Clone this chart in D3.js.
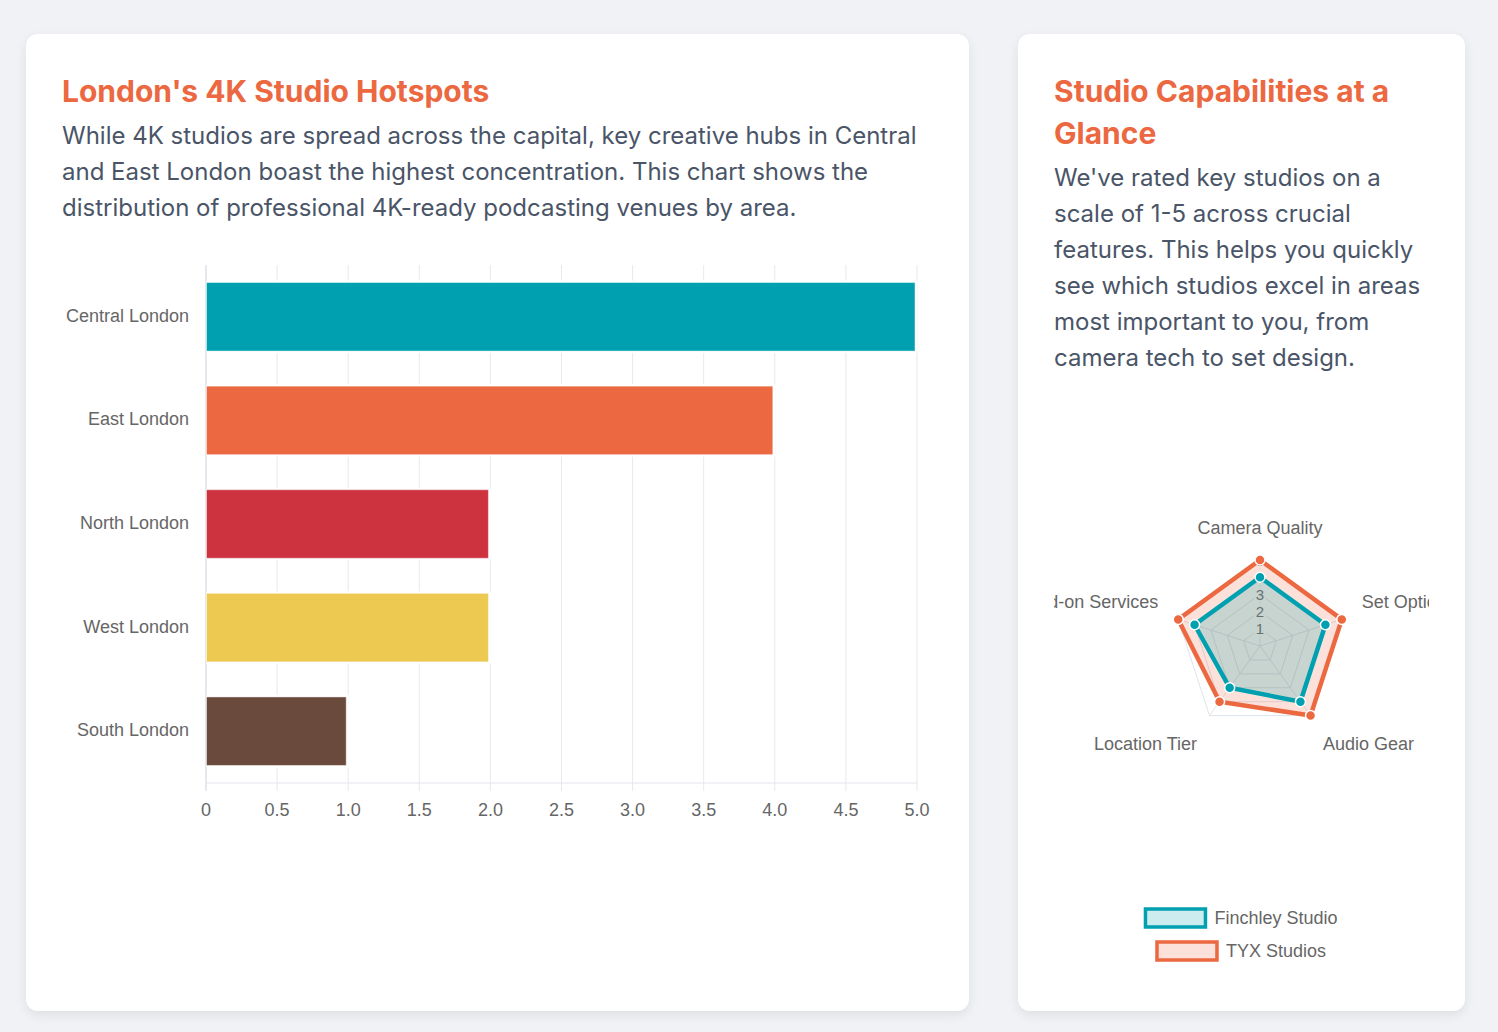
<!DOCTYPE html>
<html>
<head>
<meta charset="utf-8">
<script src="https://cdn.jsdelivr.net/npm/d3@7"></script>
<style>
  body { margin: 0; background: #f1f2f6; font-family: Inter, "Noto Sans", sans-serif; }
  .wrap { position: relative; width: 1498px; height: 1032px; }
  .card {
    position: absolute; top: 34px; height: 977px; background: #fff;
    border-radius: 12px; box-shadow: 0 4px 12px rgba(0,0,0,0.08);
    box-sizing: border-box; padding: 36px;
  }
  #left { left: 26px; width: 943px; }
  #right { left: 1018px; width: 447px; }
  h2 { margin: 0 0 6px; font-size: 30px; line-height: 42px; font-weight: 700; color: #eb6841; }
  p { margin: 0; font-size: 24px; line-height: 36px; color: #4a5568; }
  svg.chart { position: absolute; left: 0; top: 0; overflow: visible; }
  svg text { font-family: "Liberation Sans", Arial, sans-serif; fill: #666; }
</style>
</head>
<body>
<div class="wrap">
  <div class="card" id="left">
    <h2>London's 4K Studio Hotspots</h2>
    <p>While 4K studios are spread across the capital, key creative hubs in Central and East London boast the highest concentration. This chart shows the distribution of professional 4K-ready podcasting venues by area.</p>
    <svg class="chart" id="bar" width="943" height="977"></svg>
  </div>
  <div class="card" id="right">
    <h2>Studio Capabilities at a Glance</h2>
    <p>We've rated key studios on a scale of 1-5 across crucial features. This helps you quickly see which studios excel in areas most important to you, from camera tech to set design.</p>
    <svg class="chart" id="radar" width="447" height="977"></svg>
  </div>
</div>
<script>
// bar chart data
const regions = ["Central London", "East London", "North London", "West London", "South London"];
const studioCounts = [5, 4, 2, 2, 1];
const regionColors = ["#00a0b0", "#eb6841", "#cc333f", "#edc951", "#6a4a3c"];
const xTicks = [0, 0.5, 1, 1.5, 2, 2.5, 3, 3.5, 4, 4.5, 5];

// radar data
const features = ["Camera Quality", "Set Options", "Audio Gear", "Location Tier", "Add-on Services"];
const studioNames = ["Finchley Studio", "TYX Studios"];
const finchleyScores = [4, 4, 4, 3, 4];
const tyxScores = [5, 5, 5, 4, 5];
const studioColors = ["#00a0b0", "#eb6841"];
const studioFills = ["rgba(0,160,176,0.2)", "rgba(235,104,65,0.2)"];
const radarTicks = [1, 2, 3, 4, 5];

// ---------- bar chart ----------
const bar = d3.select("#bar");
const x = d3.scaleLinear().domain([0, 5]).range([180, 891]);
const y = d3.scaleBand().domain(regions).range([231, 749]).paddingInner(0.3).paddingOuter(0.15);

bar.append("g").selectAll("line")
  .data(xTicks)
  .enter().append("line")
  .attr("x1", d => x(d)).attr("x2", d => x(d))
  .attr("y1", 231).attr("y2", 757)
  .style("stroke", "#e6e9ef");

bar.append("line")
  .attr("x1", x(0)).attr("x2", x(5))
  .attr("y1", 749).attr("y2", 749)
  .style("stroke", "#e3e6ec");

bar.append("line")
  .attr("x1", x(0)).attr("x2", x(0))
  .attr("y1", 231).attr("y2", 757)
  .style("stroke", "#d8dbe2");

const bars = bar.append("g").selectAll("g")
  .data(regions)
  .enter().append("g");

bars.append("rect")
  .attr("x", x(0) + 0.5)
  .attr("y", d => y(d))
  .attr("width", (d, i) => x(studioCounts[i]) - x(0))
  .attr("height", y.bandwidth())
  .style("fill", "#fff");

bars.append("rect")
  .attr("x", x(0) + 0.5)
  .attr("y", d => y(d) + 2)
  .attr("width", (d, i) => x(studioCounts[i]) - x(0) - 2.5)
  .attr("height", y.bandwidth() - 4)
  .style("fill", (d, i) => regionColors[i])
  .style("stroke", "rgba(255,255,255,0.45)")
  .style("stroke-width", 1);

bar.append("g").selectAll("text")
  .data(regions)
  .enter().append("text")
  .attr("x", 163)
  .attr("y", d => y(d) + y.bandwidth() / 2 + 5)
  .attr("text-anchor", "end")
  .style("font-size", "18px")
  .text(d => d);

bar.append("g").selectAll("text")
  .data(xTicks)
  .enter().append("text")
  .attr("x", d => x(d))
  .attr("y", 782)
  .attr("text-anchor", "middle")
  .style("font-size", "18px")
  .text(d => d === 0 ? "0" : d.toFixed(1));

// ---------- radar chart ----------
const radar = d3.select("#radar");
const cx = 242, cy = 612;
const r = d3.scaleLinear().domain([0, 5]).range([0, 86]);
const angle = i => i * 2 * Math.PI / features.length;
const pt = (i, v) => [cx + r(v) * Math.sin(angle(i)), cy - r(v) * Math.cos(angle(i))];

radar.append("defs").append("clipPath").attr("id", "radarClip")
  .append("rect").attr("x", 36).attr("y", 340).attr("width", 375).attr("height", 500);

const rg = radar.append("g").attr("clip-path", "url(#radarClip)");

// grid rings
rg.append("g").selectAll("polygon")
  .data(radarTicks)
  .enter().append("polygon")
  .attr("points", v => features.map((f, i) => pt(i, v).join(",")).join(" "))
  .style("fill", "none")
  .style("stroke", "#dfe4eb");

// angle lines
rg.append("g").selectAll("line")
  .data(features)
  .enter().append("line")
  .attr("x1", cx).attr("y1", cy)
  .attr("x2", (d, i) => pt(i, 5)[0])
  .attr("y2", (d, i) => pt(i, 5)[1])
  .style("stroke", "#dfe4eb");

// tick labels with backdrop
const tickG = rg.append("g").selectAll("g")
  .data(radarTicks)
  .enter().append("g");
tickG.append("rect")
  .attr("x", cx - 6).attr("y", v => cy - r(v) - 8)
  .attr("width", 12).attr("height", 16)
  .style("fill", "rgba(255,255,255,0.75)");
tickG.append("text")
  .attr("x", cx).attr("y", v => cy - r(v) + 5.5)
  .attr("text-anchor", "middle")
  .style("font-size", "15px")
  .text(v => v);

// point labels
rg.append("g").selectAll("text")
  .data(features)
  .enter().append("text")
  .attr("x", (d, i) => cx + 107 * Math.sin(angle(i)))
  .attr("y", (d, i) => {
    const py = cy - 107 * Math.cos(angle(i));
    return Math.cos(angle(i)) > 0 ? py - 5 : py + 17;
  })
  .attr("text-anchor", (d, i) => {
    const s = Math.sin(angle(i));
    return s > 0.01 ? "start" : s < -0.01 ? "end" : "middle";
  })
  .style("font-size", "18px")
  .text(d => d);

// datasets: last drawn first so Finchley sits on top
const datasets = [finchleyScores, tyxScores];
[1, 0].forEach(k => {
  const g = rg.append("g");
  const scores = datasets[k];
  g.append("polygon")
    .attr("points", scores.map((v, i) => pt(i, v).join(",")).join(" "))
    .style("fill", studioFills[k])
    .style("stroke", studioColors[k])
    .style("stroke-width", 4.5)
    .style("stroke-linejoin", "miter");
  g.selectAll("circle")
    .data(scores)
    .enter().append("circle")
    .attr("cx", (v, i) => pt(i, v)[0])
    .attr("cy", (v, i) => pt(i, v)[1])
    .attr("r", 5)
    .style("fill", studioColors[k])
    .style("stroke", "#fff")
    .style("stroke-width", 1.5);
});

// legend
const legend = radar.append("g");
studioNames.forEach((name, k) => {
  const row = legend.append("g");
  const label = row.append("text")
    .attr("y", 884 + 33 * k + 6)
    .style("font-size", "18px")
    .text(name);
  const tw = label.node().getComputedTextLength();
  const x0 = 223.5 - (69 + tw) / 2;
  label.attr("x", x0 + 69);
  row.append("rect")
    .attr("x", x0).attr("y", 884 + 33 * k - 9)
    .attr("width", 60).attr("height", 18)
    .style("fill", studioFills[k])
    .style("stroke", studioColors[k])
    .style("stroke-width", 3.5);
});
</script>
</body>
</html>
